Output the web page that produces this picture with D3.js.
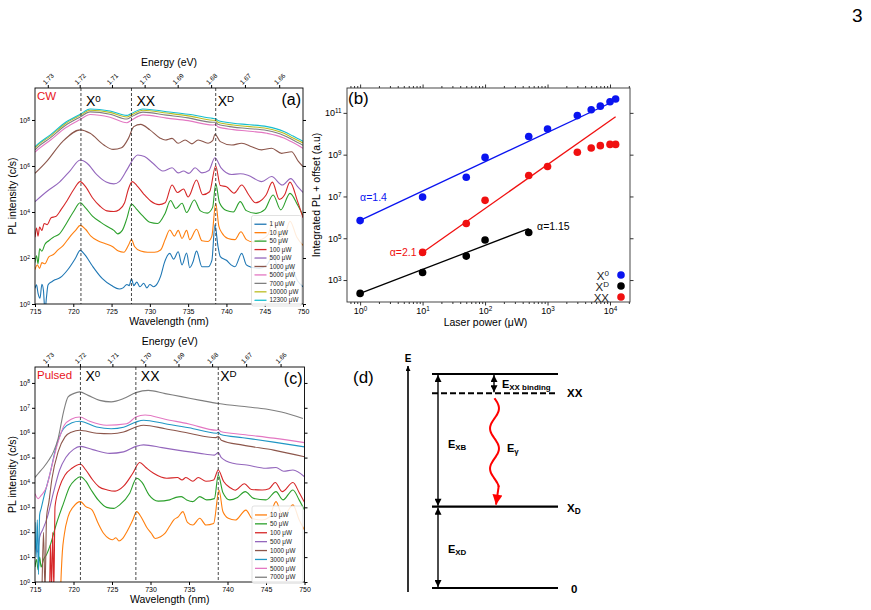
<!DOCTYPE html>
<html>
<head>
<meta charset="utf-8">
<script src="https://cdn.jsdelivr.net/npm/d3@7"></script>
<style>
  body { margin: 0; background: #fff; }
  svg { display: block; }
  text { font-family: "Liberation Sans", Arial, sans-serif; }
</style>
</head>
<body>
<svg id="fig" width="871" height="610"></svg>
<script>
"use strict";

// == DATA ==
// spectra: [wavelength (nm), log10 PL intensity (c/s)]
var cw1 = [[715.0,0.68],[715.2,0.83],[715.4,0.46],[715.65,0.25],[715.9,0.86],[716.1,0.6],[716.3,-0.3],[716.5,0.3],[716.7,0.83],[717.2,0.97],[717.6,1.05],[718.3,1.15],[719.3,1.5],[720.3,2.0],[720.9,2.33],[721.5,2.15],[722.5,1.65],[723.8,1.1],[725.0,0.8],[726.0,0.65],[726.5,0.7],[727.0,0.85],[727.3,0.8],[727.6,1.1],[727.9,0.8],[728.3,0.95],[728.7,0.75],[729.2,0.9],[729.6,0.7],[730.0,0.85],[730.5,0.75],[731.0,0.9],[731.4,1.2],[731.9,1.8],[732.6,2.2],[733.1,1.95],[733.7,2.27],[734.2,1.7],[734.8,2.22],[735.2,1.58],[735.6,1.8],[736.1,2.3],[736.8,1.62],[737.6,1.62],[738.1,1.9],[738.5,3.44],[738.9,2.5],[739.2,2.06],[740.0,1.9],[740.6,1.7],[741.1,1.62],[742.0,2.2],[742.6,1.7],[743.3,1.6],[744.3,1.55],[745.3,1.7],[746.1,2.1],[747.0,1.3],[748.3,1.7],[749.3,1.0],[750.0,0.75]];
var cw10 = [[715.0,1.5],[715.3,1.7],[715.6,1.55],[715.9,1.8],[716.3,1.75],[716.8,2.05],[717.4,2.15],[718.0,2.35],[718.7,2.55],[719.5,2.9],[720.3,3.2],[720.9,3.42],[721.6,3.25],[722.3,2.95],[723.2,2.75],[724.2,2.62],[725.1,2.5],[725.9,2.3],[726.6,2.25],[727.2,2.55],[727.6,2.8],[728.0,2.5],[728.8,2.3],[729.7,2.25],[730.6,2.25],[731.4,2.35],[732.0,2.8],[732.6,3.22],[733.2,2.95],[733.7,3.2],[734.2,2.85],[734.8,3.2],[735.2,2.8],[736.1,3.25],[736.8,2.75],[737.6,2.72],[738.1,2.95],[738.6,4.38],[739.0,3.4],[739.4,3.1],[740.2,2.85],[741.1,2.8],[741.9,3.14],[742.6,2.8],[743.5,2.7],[744.5,2.8],[745.4,3.0],[746.1,3.6],[746.9,2.9],[747.6,3.0],[748.3,3.6],[749.2,2.9],[750.0,2.55]];
var cw50 = [[715.0,1.8],[715.2,2.1],[715.4,1.75],[715.6,2.4],[715.9,2.3],[716.3,2.6],[716.8,2.75],[717.4,2.9],[718.2,3.05],[719.1,3.5],[720.0,4.0],[720.9,4.4],[721.6,4.18],[722.5,3.82],[723.6,3.55],[724.5,3.36],[725.3,3.2],[725.8,3.05],[726.4,3.2],[727.0,3.72],[727.6,4.35],[728.2,4.15],[729.0,3.85],[730.0,3.55],[731.0,3.5],[732.0,3.95],[732.7,4.5],[733.4,4.15],[734.2,4.38],[734.8,3.98],[735.8,4.52],[736.6,4.05],[737.5,3.95],[738.2,4.2],[738.6,5.22],[739.1,4.4],[740.0,4.06],[740.9,4.0],[741.8,4.45],[742.6,4.06],[743.9,3.94],[745.0,4.1],[746.1,4.74],[747.1,4.09],[748.3,4.81],[749.3,4.3],[750.0,3.85]];
var cw100 = [[715.0,2.9],[715.2,3.3],[715.4,2.95],[715.6,3.35],[715.9,3.2],[716.2,3.5],[716.6,3.45],[717.1,3.75],[717.7,3.8],[718.4,4.1],[719.2,4.5],[720.1,5.0],[720.9,5.32],[721.6,5.1],[722.5,4.62],[723.5,4.25],[724.4,4.05],[725.3,4.02],[726.0,4.1],[726.7,4.4],[727.2,5.0],[727.7,5.32],[728.3,5.15],[729.2,4.78],[730.1,4.48],[731.2,4.32],[732.0,4.4],[732.9,5.17],[733.6,4.85],[734.4,5.0],[735.0,4.65],[736.1,5.39],[736.9,4.75],[737.8,4.88],[738.6,6.0],[739.2,5.15],[740.0,5.1],[741.0,4.82],[742.0,5.17],[742.9,4.75],[743.8,4.4],[744.7,4.55],[745.2,4.75],[746.0,5.3],[746.9,4.55],[747.6,4.75],[748.3,5.3],[749.3,4.45],[750.0,3.75]];
var cw500 = [[715.0,4.45],[716.5,4.88],[718.2,5.3],[719.6,5.8],[720.9,6.26],[721.8,6.12],[723.1,5.61],[724.3,5.3],[725.3,5.22],[726.0,5.32],[727.0,5.83],[727.9,6.33],[728.4,6.48],[729.3,6.41],[730.4,6.12],[731.7,5.78],[732.9,5.92],[733.7,5.7],[734.4,5.78],[735.1,5.68],[735.9,5.92],[736.8,5.7],[737.7,5.8],[738.5,6.36],[739.3,5.92],[740.7,5.63],[741.8,5.66],[742.8,5.6],[744.6,5.32],[745.9,5.54],[747.3,5.17],[748.4,5.45],[749.3,5.1],[750.0,4.85]];
var cw1000 = [[715.0,5.68],[716.5,6.19],[718.6,7.06],[720.9,7.57],[722.2,7.42],[724.0,6.91],[725.2,6.72],[726.3,6.79],[727.2,7.2],[727.9,7.71],[728.8,7.81],[730.0,7.57],[731.3,7.22],[732.0,7.13],[732.9,7.2],[733.7,6.99],[734.6,7.13],[735.5,6.96],[736.3,7.13],[737.6,6.99],[738.2,7.1],[738.5,7.38],[739.2,7.06],[740.7,6.91],[742.0,6.99],[743.3,6.84],[744.6,6.7],[745.9,6.77],[747.2,6.55],[748.5,6.62],[749.4,6.2],[750.0,5.97]];
var cw5000 = [[715.0,6.6],[715.4,6.72],[717.0,7.12],[719.0,7.66],[720.9,8.02],[722.2,8.24],[724.8,8.12],[727.0,7.88],[727.5,7.97],[729.1,8.22],[732.2,8.08],[735.0,7.97],[738.2,7.78],[738.6,7.8],[738.9,7.7],[740.9,7.58],[742.7,7.52],[745.3,7.42],[747.5,7.22],[748.7,7.02],[750.0,6.77]];
var cw7000 = [[715.0,6.7],[715.4,6.83],[717.0,7.22],[719.0,7.77],[720.9,8.13],[722.2,8.35],[724.8,8.25],[727.0,8.04],[727.5,8.12],[729.1,8.34],[732.2,8.21],[735.0,8.09],[738.2,7.9],[738.6,7.9],[738.9,7.81],[740.9,7.69],[742.7,7.63],[745.3,7.54],[747.5,7.33],[748.7,7.13],[750.0,6.9]];
var cw10000 = [[715.0,6.8],[715.4,6.92],[717.0,7.3],[719.0,7.85],[720.9,8.2],[722.2,8.42],[724.8,8.33],[727.0,8.13],[727.5,8.2],[729.1,8.42],[732.2,8.3],[735.0,8.18],[738.2,7.99],[738.6,7.98],[738.9,7.9],[740.9,7.78],[742.7,7.72],[745.3,7.63],[747.5,7.42],[748.7,7.22],[750.0,7.0]];
var cw12300 = [[715.0,6.84],[715.4,6.96],[717.0,7.35],[719.0,7.9],[720.9,8.25],[722.2,8.48],[724.8,8.39],[727.0,8.2],[727.5,8.27],[729.1,8.48],[732.2,8.36],[735.0,8.25],[738.2,8.07],[738.6,8.05],[738.9,7.98],[740.9,7.86],[742.7,7.8],[745.3,7.71],[747.5,7.5],[748.7,7.3],[750.0,7.07]];

var p10 = [[718.3,-0.5],[718.4,0.3],[718.55,1.2],[718.8,1.9],[719.3,2.63],[720.0,3.03],[720.9,3.23],[721.6,3.03],[722.4,2.9],[723.2,2.36],[723.9,1.96],[724.6,1.75],[725.1,1.7],[725.5,1.78],[725.9,1.65],[726.4,1.75],[726.9,2.0],[727.7,2.49],[728.2,2.83],[728.8,2.6],[729.5,2.2],[730.1,1.96],[730.6,1.75],[731.3,1.82],[731.9,1.96],[732.5,2.25],[733.0,2.49],[733.6,2.62],[734.2,2.83],[734.8,2.4],[735.5,2.29],[736.4,2.56],[737.2,2.29],[738.2,2.35],[738.9,3.7],[739.4,2.83],[740.1,2.56],[741.0,2.49],[742.4,2.89],[743.2,2.55],[744.5,2.49],[745.4,2.6],[746.3,3.23],[747.2,2.6],[748.5,3.1],[749.3,2.5],[750.0,2.09]];
var p50 = [[715.0,0.6],[715.2,0.9],[715.4,0.5],[715.6,1.0],[715.8,0.6],[716.1,0.9],[716.5,1.1],[717.0,1.5],[717.8,2.36],[718.7,3.16],[719.5,3.83],[720.2,4.1],[720.9,4.23],[721.6,4.05],[722.3,3.7],[723.2,3.3],[724.3,3.0],[725.2,2.96],[726.0,3.1],[727.3,3.57],[728.2,4.17],[728.9,4.0],[729.8,3.5],[731.0,3.25],[732.5,3.3],[733.3,3.4],[734.0,3.43],[734.7,3.3],[735.5,3.23],[736.4,3.43],[737.3,3.3],[738.3,3.35],[738.8,4.3],[739.4,3.6],[740.3,3.3],[741.3,3.4],[742.3,3.63],[743.4,3.36],[745.0,3.3],[746.3,3.63],[747.2,3.3],[748.5,3.7],[749.3,3.3],[750.0,2.89]];
var p100 = [[716.9,-0.5],[717.0,1.5],[717.15,-0.3],[717.3,2.0],[717.45,-0.3],[717.6,3.03],[718.2,3.83],[718.9,4.3],[719.8,4.57],[720.9,4.73],[721.6,4.5],[722.5,4.1],[723.3,3.83],[724.4,3.7],[725.4,3.65],[726.5,3.85],[727.7,4.37],[728.6,4.8],[729.4,4.6],[730.4,4.37],[732.1,4.17],[733.5,4.2],[734.1,4.1],[734.6,4.2],[735.5,4.05],[736.2,4.2],[737.2,4.05],[738.2,4.1],[738.8,4.5],[739.5,4.04],[740.3,3.8],[741.0,3.69],[742.2,3.95],[743.1,3.72],[744.5,3.7],[745.4,3.75],[746.2,4.0],[747.1,3.63],[748.5,4.0],[749.3,3.6],[750.0,3.2]];
var p500 = [[715.0,1.5],[715.3,1.2],[715.6,1.8],[716.0,2.1],[716.6,2.6],[717.4,3.6],[718.2,4.5],[719.0,5.0],[720.0,5.33],[720.9,5.45],[722.5,5.32],[724.7,5.17],[726.5,5.23],[728.1,5.45],[729.1,5.51],[731.5,5.4],[733.5,5.3],[736.4,5.17],[738.3,5.1],[738.8,5.2],[739.2,5.0],[740.7,4.77],[742.5,4.7],[745.0,4.57],[746.3,4.6],[747.3,4.45],[748.5,4.5],[750.0,4.23]];
var p1000 = [[715.9,-0.5],[716.1,2.0],[716.3,-0.3],[716.5,2.6],[716.8,3.2],[717.2,4.15],[718.0,5.23],[718.9,5.83],[719.8,6.03],[720.8,6.1],[723.0,5.98],[724.9,5.96],[726.5,6.03],[728.1,6.23],[729.1,6.3],[731.9,6.16],[735.0,5.98],[738.5,5.8],[738.8,5.85],[739.2,5.7],[742.0,5.5],[746.0,5.3],[750.0,5.03]];
var p3000 = [[715.0,2.4],[715.15,1.0],[715.3,2.5],[715.45,0.3],[715.6,2.7],[715.8,2.95],[716.2,3.48],[716.9,4.29],[717.8,5.49],[718.7,6.16],[719.8,6.4],[720.8,6.46],[723.0,6.23],[724.9,6.16],[726.5,6.22],[728.1,6.43],[729.1,6.5],[731.9,6.36],[735.0,6.2],[738.6,5.98],[738.8,6.02],[739.1,5.93],[742.0,5.8],[746.0,5.62],[750.0,5.43]];
var p5000 = [[715.0,3.55],[715.4,3.35],[715.8,3.48],[716.5,3.82],[717.1,4.56],[718.0,5.63],[718.8,6.3],[719.7,6.54],[720.8,6.63],[722.1,6.46],[724.3,6.3],[726.9,6.36],[728.1,6.63],[729.3,6.71],[731.9,6.54],[735.0,6.35],[738.6,6.1],[738.8,6.13],[739.1,6.05],[742.0,5.93],[746.0,5.78],[750.0,5.6]];
var p7000 = [[715.0,4.2],[715.4,4.35],[716.1,4.6],[716.8,4.9],[717.4,5.23],[718.0,5.76],[718.7,6.83],[719.3,7.44],[720.0,7.57],[720.8,7.64],[721.9,7.5],[723.4,7.3],[724.9,7.24],[726.5,7.37],[728.1,7.61],[729.7,7.7],[731.9,7.57],[734.0,7.45],[736.5,7.3],[738.8,7.17],[742.7,7.03],[745.0,6.95],[747.0,6.83],[749.8,6.57]];

var cwPowers = ["1", "10", "50", "100", "500", "1000", "5000", "7000", "10000", "12300"];
var cwSpectra = [cw1, cw10, cw50, cw100, cw500, cw1000, cw5000, cw7000, cw10000, cw12300];
var cwColors = ["#1f77b4", "#ff7f0e", "#2ca02c", "#d62728", "#9467bd", "#8c564b", "#e377c2", "#7f7f7f", "#bcbd22", "#17becf"];
var cwPeaks = [721.0, 727.6, 738.6];

var pulsedPowers = ["10", "50", "100", "500", "1000", "3000", "5000", "7000"];
var pulsedSpectra = [p10, p50, p100, p500, p1000, p3000, p5000, p7000];
var pulsedColors = ["#ff7f0e", "#2ca02c", "#d62728", "#9467bd", "#8c564b", "#1f96c4", "#e377c2", "#7f7f7f"];
var pulsedPeaks = [720.9, 728.1, 738.8];

var peakNames = [["X", "0"], ["XX", ""], ["X", "D"]];
var energyTicks = [1.73, 1.72, 1.71, 1.70, 1.69, 1.68, 1.67, 1.66];
var wavelengthTicks = [715, 720, 725, 730, 735, 740, 745, 750];

// panel (b): integrated PL vs laser power (µW)
var x0Power = [1, 10, 50, 100, 500, 1000, 3000, 5000, 7000, 10000, 12300];
var x0Int = [7e5, 9.3e6, 8.3e7, 7.4e8, 7.4e9, 1.7e10, 7.4e10, 1.4e11, 2.1e11, 3.4e11, 4.6e11];
var xxPower = [10, 50, 100, 500, 1000, 3000, 5000, 7000, 10000, 12300];
var xxInt = [2.1e4, 5.1e5, 6.5e6, 1.0e8, 2.7e8, 1.3e9, 2.1e9, 2.7e9, 3.1e9, 3.1e9];
var xdPower = [1, 10, 50, 100, 500];
var xdInt = [2.3e2, 2.3e3, 1.4e4, 8.3e4, 1.9e5];
// fit lines: [[power, intensity] start, end]
var x0Fit = [[1, 7.2e5], [12300, 3.9e11]];
var xxFit = [[10, 2.1e4], [12300, 6.5e10]];
var xdFit = [[1, 2.3e2], [500, 2.9e5]];

// panel (d): level energies (arbitrary units)
var levelE = { top: 2.0, xx: 1.82, xd: 0.76, zero: 0 };

var svg = d3.select("#fig");
var defs = svg.append("defs");

function powLabel(t, base, exp) {
  t.text(null);
  t.append("tspan").text(base);
  if (exp !== "") t.append("tspan").attr("dy", "-0.45em").attr("font-size", "0.7em").text(exp);
}

// == SPECTRUM PANELS (a) and (c) ==
function spectrumPanel(o) {
  var x = d3.scaleLinear().domain([715, 750]).range([o.left, o.right]);
  var y = d3.scaleLog().domain([1, Math.pow(10, o.logTop)]).range([o.bottom, o.top]);
  var g = svg.append("g");

  defs.append("clipPath").attr("id", "clip" + o.id)
      .append("rect").attr("x", o.left).attr("y", o.top)
      .attr("width", o.right - o.left).attr("height", o.bottom - o.top);

  var line = d3.line()
      .x(function (d) { return x(d[0]); })
      .y(function (d) { return y(Math.pow(10, d[1])); })
      .curve(d3.curveMonotoneX);

  var curves = g.append("g").attr("clip-path", "url(#clip" + o.id + ")");
  o.spectra.forEach(function (s, i) {
    curves.append("path").attr("d", line(s)).attr("fill", "none")
          .attr("stroke", o.colors[i]).attr("stroke-width", 1.1);
  });

  o.peaks.forEach(function (p, i) {
    g.append("line").attr("x1", x(p)).attr("x2", x(p)).attr("y1", o.top).attr("y2", o.bottom)
     .attr("stroke", "#333").attr("stroke-width", 0.9).attr("stroke-dasharray", "3,2");
    var t = g.append("text").attr("x", x(p) + (i === 2 ? 2 : 5)).attr("y", o.top + o.labelDy)
             .attr("font-size", 14).attr("fill", "#000");
    powLabel(t, peakNames[i][0], peakNames[i][1]);
  });

  // axes
  var bottom = g.append("g").attr("transform", "translate(0," + o.bottom + ")")
    .call(d3.axisBottom(x).tickValues(wavelengthTicks).tickSize(3).tickPadding(2));
  bottom.selectAll("text").attr("font-size", 7).attr("font-family", "Liberation Sans, Arial, sans-serif");

  var left = g.append("g").attr("transform", "translate(" + o.left + ",0)")
    .call(d3.axisLeft(y).tickValues(o.yTicks).tickSize(3).tickPadding(2));
  left.selectAll("text").attr("font-size", 7).attr("font-family", "Liberation Sans, Arial, sans-serif")
    .each(function (d) { powLabel(d3.select(this), "10", String(Math.round(Math.log10(d)))); });

  g.append("g").attr("transform", "translate(" + o.right + ",0)")
    .call(d3.axisRight(y).tickValues(o.yTicks).tickSize(3).tickFormat(""));

  var top = g.append("g").attr("transform", "translate(0," + o.top + ")")
    .call(d3.axisTop(x).tickValues(energyTicks.map(function (e) { return 1239.84 / e; }))
      .tickSize(3).tickFormat(function (d, i) { return energyTicks[i].toFixed(2); }));
  top.selectAll("text").attr("font-size", 6.5).attr("font-family", "Liberation Sans, Arial, sans-serif")
    .attr("y", 0).attr("dy", "0.35em").attr("text-anchor", "middle")
    .attr("transform", "translate(0,-9) rotate(-45)");

  g.selectAll(".domain").remove();
  g.append("rect").attr("x", o.left).attr("y", o.top).attr("width", o.right - o.left)
   .attr("height", o.bottom - o.top).attr("fill", "none").attr("stroke", "#000").attr("stroke-width", 0.9);

  g.append("text").attr("x", (o.left + o.right) / 2).attr("y", o.top - 22)
   .attr("text-anchor", "middle").attr("font-size", 10.5).text("Energy (eV)");
  g.append("text").attr("x", (o.left + o.right) / 2).attr("y", o.bottom + 21)
   .attr("text-anchor", "middle").attr("font-size", 10.5).text("Wavelength (nm)");
  g.append("text").attr("transform", "translate(16," + ((o.top + o.bottom) / 2) + ") rotate(-90)")
   .attr("text-anchor", "middle").attr("font-size", 10.5).text("PL intensity (c/s)");

  g.append("text").attr("x", o.left + 2).attr("y", o.top + 12).attr("font-size", 11.5)
   .attr("fill", "#e8141c").text(o.mode);
  g.append("text").attr("x", o.right - 2).attr("y", o.top + 17).attr("text-anchor", "end")
   .attr("font-size", 16).text(o.tag);

  // legend
  var lg = g.append("g");
  var n = o.powers.length;
  lg.append("rect").attr("x", o.legend.x).attr("y", o.legend.y).attr("width", o.legend.w)
    .attr("height", o.legend.step * n + 6).attr("rx", 2)
    .attr("fill", "#fff").attr("fill-opacity", 0.85).attr("stroke", "#ccc").attr("stroke-width", 0.6);
  o.powers.forEach(function (p, i) {
    var yy = o.legend.y + 4.5 + o.legend.step * (i + 0.5);
    lg.append("line").attr("x1", o.legend.x + 3).attr("x2", o.legend.x + 15).attr("y1", yy).attr("y2", yy)
      .attr("stroke", o.colors[i]).attr("stroke-width", 1.3);
    lg.append("text").attr("x", o.legend.x + 18).attr("y", yy).attr("dy", "0.35em")
      .attr("font-size", 6.3).attr("fill", "#222").text(p + " \u03bcW");
  });
}

spectrumPanel({
  id: "a", left: 35, right: 303, top: 88, bottom: 304, logTop: 9.39,
  spectra: cwSpectra, colors: cwColors, powers: cwPowers, peaks: cwPeaks,
  yTicks: [1, 1e2, 1e4, 1e6, 1e8], mode: "CW", tag: "(a)", labelDy: 18,
  legend: { x: 251.5, y: 215.5, w: 50, step: 8.45 }
});

spectrumPanel({
  id: "c", left: 35, right: 304.5, top: 367, bottom: 582, logTop: 8.64,
  spectra: pulsedSpectra, colors: pulsedColors, powers: pulsedPowers, peaks: pulsedPeaks,
  yTicks: [1, 1e1, 1e2, 1e3, 1e4, 1e5, 1e6, 1e7, 1e8], mode: "Pulsed", tag: "(c)", labelDy: 14,
  legend: { x: 252, y: 506, w: 51, step: 8.9 }
});

// == PANEL (b) ==
(function () {
  var L = 347, R = 630, T = 88, B = 302;
  var x = d3.scaleLog().domain([Math.pow(10, -0.21), Math.pow(10, 4.32)]).range([L, R]);
  var y = d3.scaleLog().domain([Math.pow(10, 1.95), Math.pow(10, 12.19)]).range([B, T]);
  var g = svg.append("g");

  var majorX = [1, 10, 100, 1000, 10000];
  var minorX = [];
  [0.1, 1, 10, 100, 1000, 10000].forEach(function (dec) {
    for (var k = 2; k <= 9; k++) {
      var v = dec * k;
      if (v > x.domain()[0] && v < x.domain()[1]) minorX.push(v);
    }
  });
  var majorY = [1e3, 1e5, 1e7, 1e9, 1e11];

  var bx = g.append("g").attr("transform", "translate(0," + B + ")")
    .call(d3.axisBottom(x).tickValues(majorX).tickSize(3.5).tickPadding(2));
  bx.selectAll("text").attr("font-size", 9).attr("font-family", "Liberation Sans, Arial, sans-serif")
    .each(function (d) { powLabel(d3.select(this), "10", String(Math.round(Math.log10(d)))); });
  g.append("g").attr("transform", "translate(0," + B + ")")
    .call(d3.axisBottom(x).tickValues(minorX).tickSize(2).tickFormat(""));
  g.append("g").attr("transform", "translate(0," + T + ")")
    .call(d3.axisTop(x).tickValues(majorX).tickSize(3.5).tickFormat(""));
  g.append("g").attr("transform", "translate(0," + T + ")")
    .call(d3.axisTop(x).tickValues(minorX).tickSize(2).tickFormat(""));

  var ly = g.append("g").attr("transform", "translate(" + L + ",0)")
    .call(d3.axisLeft(y).tickValues(majorY).tickSize(3.5).tickPadding(2));
  ly.selectAll("text").attr("font-size", 9).attr("font-family", "Liberation Sans, Arial, sans-serif")
    .each(function (d) { powLabel(d3.select(this), "10", String(Math.round(Math.log10(d)))); });
  g.append("g").attr("transform", "translate(" + R + ",0)")
    .call(d3.axisRight(y).tickValues(majorY).tickSize(3.5).tickFormat(""));

  g.selectAll(".domain").remove();
  g.selectAll(".tick line").attr("stroke", "#333");
  g.append("rect").attr("x", L).attr("y", T).attr("width", R - L).attr("height", B - T)
   .attr("fill", "none").attr("stroke", "#333").attr("stroke-width", 0.9);

  var series = [
    { p: x0Power, v: x0Int, fit: x0Fit, c: "#0a14f0" },
    { p: xxPower, v: xxInt, fit: xxFit, c: "#f01010" },
    { p: xdPower, v: xdInt, fit: xdFit, c: "#000000" }
  ];
  var line = d3.line().x(function (d) { return x(d[0]); }).y(function (d) { return y(d[1]); });
  series.forEach(function (s) {
    g.append("path").attr("d", line(s.fit)).attr("stroke", s.c).attr("stroke-width", 1.3).attr("fill", "none");
  });
  series.forEach(function (s) {
    g.selectAll(null).data(s.p).enter().append("circle")
      .attr("cx", function (d) { return x(d); })
      .attr("cy", function (d, i) { return y(s.v[i]); })
      .attr("r", 3.8).attr("fill", s.c);
  });

  g.append("text").attr("x", x(1)).attr("y", y(9e6)).attr("dy", "0.35em")
   .attr("font-size", 10.5).attr("fill", "#0a14f0").text("\u03b1=1.4");
  g.append("text").attr("x", x(10) - 6).attr("y", y(2.1e4)).attr("dy", "0.35em").attr("text-anchor", "end")
   .attr("font-size", 10.5).attr("fill", "#f01010").text("\u03b1=2.1");
  g.append("text").attr("x", x(680)).attr("y", y(3.7e5)).attr("dy", "0.35em")
   .attr("font-size", 10.5).attr("fill", "#000").text("\u03b1=1.15");

  // legend
  var leg = [["X", "0", "#0a14f0"], ["X", "D", "#000000"], ["XX", "", "#f01010"]];
  leg.forEach(function (d, i) {
    var yy = 275 + i * 11;
    var t = g.append("text").attr("x", 609).attr("y", yy + 5).attr("text-anchor", "end")
             .attr("font-size", 11.5).attr("fill", "#222");
    powLabel(t, d[0], d[1]);
    g.append("circle").attr("cx", 621).attr("cy", yy).attr("r", 3.8).attr("fill", d[2]);
  });

  g.append("text").attr("x", (L + R) / 2 - 3).attr("y", B + 24).attr("text-anchor", "middle")
   .attr("font-size", 10.5).text("Laser power (\u03bcW)");
  g.append("text").attr("transform", "translate(320," + ((T + B) / 2) + ") rotate(-90)")
   .attr("text-anchor", "middle").attr("font-size", 10.5).text("Integrated PL + offset (a.u)");
  g.append("text").attr("x", L + 1).attr("y", T + 16).attr("font-size", 17).text("(b)");
})();

// == PANEL (d): energy level diagram ==
(function () {
  var yE = d3.scaleLinear().domain([0, 2]).range([588, 374]);
  var g = svg.append("g").attr("font-family", "Liberation Sans, Arial, sans-serif");
  var x0 = 432, x1 = 558, arrowX = 438, bindX = 494;

  function marker(id, color, w, h) {
    defs.append("marker").attr("id", id).attr("viewBox", "0 0 10 10")
      .attr("refX", 10).attr("refY", 5).attr("markerUnits", "userSpaceOnUse")
      .attr("markerWidth", w).attr("markerHeight", h).attr("orient", "auto-start-reverse")
      .append("path").attr("d", "M0,0 L10,5 L0,10 z").attr("fill", color);
  }
  marker("ahBlack", "#000", 8, 7);
  marker("ahAxis", "#000", 6, 5);
  marker("ahRed", "#f00", 18, 10);

  // energy axis
  g.append("line").attr("x1", 408).attr("x2", 408).attr("y1", 592).attr("y2", 366)
   .attr("stroke", "#000").attr("stroke-width", 1.6).attr("marker-end", "url(#ahAxis)");
  g.append("text").attr("x", 408).attr("y", 362).attr("text-anchor", "middle")
   .attr("font-size", 10).attr("font-weight", "bold").text("E");

  // levels
  var levels = [
    { E: levelE.top, dashed: false },
    { E: levelE.xx, dashed: true },
    { E: levelE.xd, dashed: false },
    { E: levelE.zero, dashed: false }
  ];
  levels.forEach(function (l) {
    g.append("line").attr("x1", x0).attr("x2", x1).attr("y1", yE(l.E)).attr("y2", yE(l.E))
     .attr("stroke", "#000").attr("stroke-width", 2.2)
     .attr("stroke-dasharray", l.dashed ? "6,3" : null);
  });

  // double arrows
  var gaps = [
    { x: arrowX, from: levelE.xd, to: levelE.top },
    { x: arrowX, from: levelE.zero, to: levelE.xd },
    { x: bindX, from: levelE.xx, to: levelE.top }
  ];
  gaps.forEach(function (a) {
    g.append("line").attr("x1", a.x).attr("x2", a.x).attr("y1", yE(a.from) - 1).attr("y2", yE(a.to) + 1)
     .attr("stroke", "#000").attr("stroke-width", 1.4)
     .attr("marker-start", "url(#ahBlack)").attr("marker-end", "url(#ahBlack)");
  });

  // photon (wavy red arrow)
  var y0 = yE(levelE.xx) + 5, y1 = yE(levelE.xd) - 20;
  var pts = d3.range(0, 1.0001, 0.02).map(function (t) {
    return [bindX + 0.5 + 4.5 * Math.sin(t * Math.PI * 4.4), y0 + t * (y1 - y0)];
  });
  g.append("path").attr("d", d3.line().curve(d3.curveBasis)(pts)).attr("fill", "none")
   .attr("stroke", "#f00").attr("stroke-width", 2);
  g.append("line").attr("x1", pts[pts.length - 1][0]).attr("x2", bindX + 2)
   .attr("y1", y1 - 1).attr("y2", yE(levelE.xd) - 2)
   .attr("stroke", "#f00").attr("stroke-width", 2).attr("marker-end", "url(#ahRed)");

  function subText(x, y, main, sub, size) {
    var t = g.append("text").attr("x", x).attr("y", y).attr("font-size", size).attr("font-weight", "bold");
    t.append("tspan").text(main);
    if (sub) t.append("tspan").attr("dy", "0.3em").attr("font-size", size * 0.72).text(sub);
    return t;
  }
  subText(502, 388, "E", "XX binding", 11);
  subText(448, 448, "E", "XB", 11);
  subText(448, 553, "E", "XD", 11);
  subText(507, 452, "E", "\u03b3", 11);
  subText(567, yE(levelE.xx) + 4, "XX", "", 11.5);
  subText(567, yE(levelE.xd) + 5, "X", "D", 11.5);
  subText(571, yE(levelE.zero) + 5, "0", "", 11.5);

  g.append("text").attr("x", 353).attr("y", 383).attr("font-size", 17).text("(d)");
})();

// page number
svg.append("text").attr("x", 852).attr("y", 22).attr("font-family", "Liberation Serif, serif")
   .attr("font-size", 19).text("3");
</script>
</body>
</html>
